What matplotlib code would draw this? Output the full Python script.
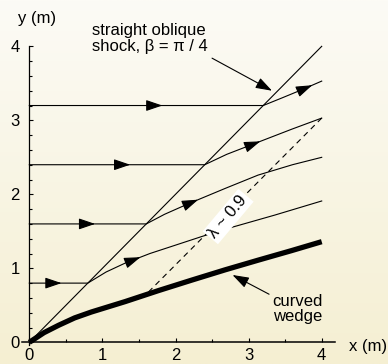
import matplotlib
matplotlib.use("Agg")
import matplotlib.pyplot as plt
import numpy as np

plt.rcParams['font.family'] = ['Liberation Sans', 'DejaVu Sans']

# wedge surface (m)
wedge_x = [0, 0.2, 0.4, 0.62, 0.85, 1.08, 1.31, 1.77, 2.22, 2.68, 3.13, 3.59, 4.0]
wedge_y = [0, 0.13, 0.23, 0.33, 0.41, 0.48, 0.55, 0.70, 0.84, 0.98, 1.11, 1.24, 1.36]

# straight oblique shock, beta = pi/4
shock_x = [0, 4]
shock_y = [0, 4]

# streamlines: upstream height y0, then deflected points behind the shock
y0_list = [0.8, 1.6, 2.4, 3.2]
post_x = [
    [0.8, 1.05, 1.31, 1.65, 1.99, 2.36, 2.72, 3.36, 4.0],
    [1.6, 1.85, 2.17, 2.68, 3.13, 3.6, 4.0],
    [2.4, 2.7, 3.04, 3.59, 4.0],
    [3.2, 3.45, 3.72, 4.0],
]
post_y = [
    [0.8, 0.95, 1.07, 1.2, 1.31, 1.43, 1.54, 1.72, 1.91],
    [1.6, 1.73, 1.87, 2.08, 2.26, 2.4, 2.5],
    [2.4, 2.54, 2.67, 2.88, 3.03],
    [3.2, 3.3, 3.41, 3.53],
]
# where the arrowheads sit (tip x)
arrow_up_x = [0.44, 0.90, 1.38, 1.82]
arrow_down_x = [1.52, 2.31, 3.16, 3.87]

# characteristic line lambda ~ 0.9
char_x = [1.63, 4.0]
char_y = [0.68, 3.03]

fig = plt.figure(figsize=(3.88, 3.64), dpi=100)

# background gradient
bg = fig.add_axes([0, 0, 1, 1], zorder=-10)
top = np.array([252, 251, 246]) / 255
bot = np.array([245, 239, 210]) / 255
t = np.linspace(0, 1, 256)[:, None]
grad = top * (1 - t[..., None]) + bot * t[..., None]
grad = np.repeat(grad, 2, axis=1)
bg.imshow(grad, aspect='auto', extent=[0, 1, 0, 1])
bg.axis('off')

ax = fig.add_axes([0, 0, 1, 1])
ax.set_facecolor('none')
ax.set_xlim(-0.401, 4.907)
ax.set_ylim(-0.293, 4.626)

ax.plot(wedge_x, wedge_y, color='k', lw=3.8, solid_capstyle='butt',
        solid_joinstyle='round')
ax.plot(shock_x, shock_y, color='k', lw=0.8)
ax.plot(char_x, char_y, color='k', lw=0.8, ls=(0, (5, 4)))

arr_style = '-|>,head_length=1.0,head_width=0.34'
for i, y0 in enumerate(y0_list):
    xs = [0] + post_x[i]
    ys = [y0] + post_y[i]
    ax.plot(xs, ys, color='k', lw=0.8)
    for xt in (arrow_up_x[i], arrow_down_x[i]):
        yt = np.interp(xt, xs, ys)
        xb = xt - 0.12
        yb = np.interp(xb, xs, ys)
        ax.annotate('', xy=(xt, yt), xytext=(xb, yb),
                    arrowprops=dict(arrowstyle=arr_style, mutation_scale=10,
                                    color='k', lw=0.8, shrinkA=0, shrinkB=0))

ax.text(2.72, 1.70, r'λ ~ 0.9', fontsize=12, rotation=50,
        ha='center', va='center',
        bbox=dict(boxstyle='square,pad=0.15', fc='white', ec='none'))

ax.text(0.86, 4.11, 'straight oblique\nshock, β = π / 4', fontsize=12,
        ha='left', va='center', linespacing=1.1)
ax.annotate('', xy=(3.32, 3.40), xytext=(2.50, 3.84),
            arrowprops=dict(arrowstyle=arr_style, mutation_scale=10,
                            color='k', lw=0.8, shrinkA=0, shrinkB=0))

ax.text(3.33, 0.45, 'curved\nwedge', fontsize=12, ha='left', va='center',
        linespacing=1.05)
ax.annotate('', xy=(2.78, 0.91), xytext=(3.28, 0.65),
            arrowprops=dict(arrowstyle=arr_style, mutation_scale=10,
                            color='k', lw=0.8, shrinkA=0, shrinkB=0))

ax.text(0.105, 4.38, 'y (m)', fontsize=12, ha='center', va='center')
ax.text(4.63, -0.06, 'x (m)', fontsize=12, ha='center', va='center')

for s in ['top', 'right']:
    ax.spines[s].set_visible(False)
ax.spines['left'].set_position(('data', 0))
ax.spines['bottom'].set_position(('data', 0))
ax.spines['left'].set_bounds(-0.03, 4.0)
ax.spines['bottom'].set_bounds(-0.1, 4.18)
ax.spines['left'].set_linewidth(0.9)
ax.spines['bottom'].set_linewidth(1.1)

ax.set_xticks([0, 1, 2, 3, 4])
ax.set_yticks([0, 1, 2, 3, 4])
ax.set_xticks(np.arange(0, 4.01, 0.5), minor=True)
ax.set_yticks(np.arange(0, 4.01, 0.2), minor=True)
ax.tick_params(which='both', direction='in', labelsize=12, width=0.8)
ax.tick_params(which='major', length=3)
ax.tick_params(which='minor', length=2.5)
ax.tick_params(axis='y', pad=7)
ax.tick_params(axis='x', pad=4)

fig.savefig('out.png', dpi=100)
